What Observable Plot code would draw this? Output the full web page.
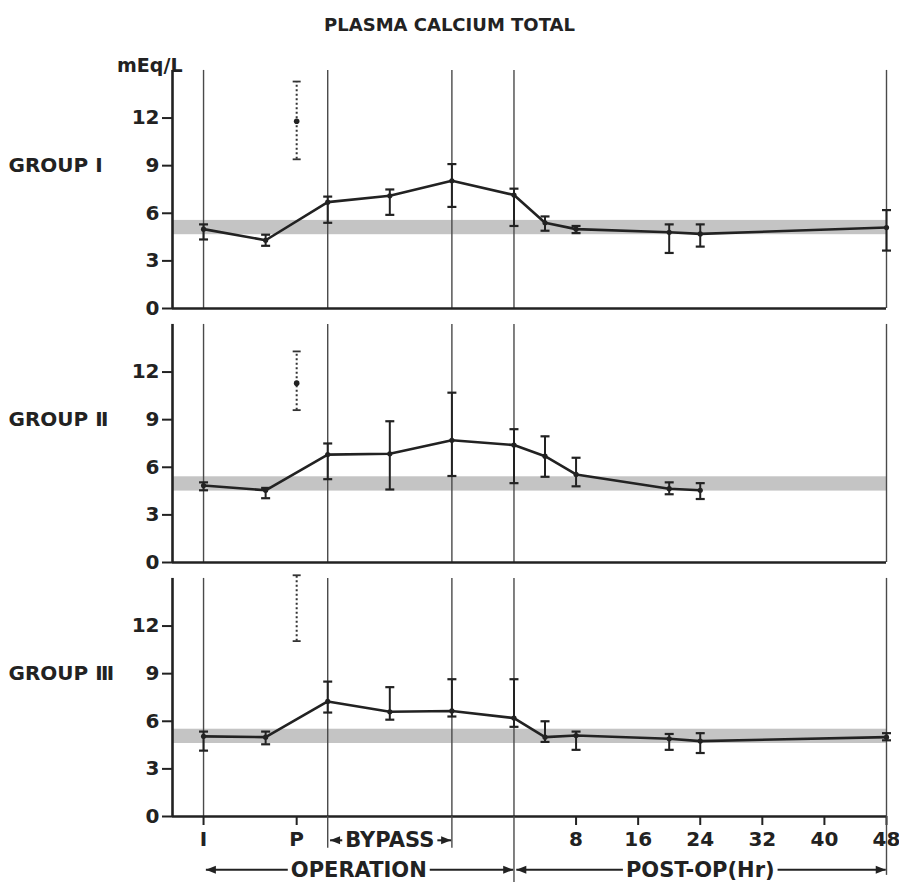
<!DOCTYPE html>
<html><head><meta charset="utf-8">
<script src="https://cdn.jsdelivr.net/npm/d3@7"></script>
<script src="https://cdn.jsdelivr.net/npm/@observablehq/plot@0.6"></script>
<style>html,body{margin:0;padding:0;background:#fff}#chart{width:899px;height:882px}</style>
</head><body><div id="chart"></div>
<script>
// ---- data ----
const groups = ["I", "II", "III"];
const groupLabels = ["GROUP Ⅰ", "GROUP Ⅱ", "GROUP Ⅲ"];
// sampling points: operation phase (I, pre-bypass, bypass start, mid, end, end of op) then post-op hours
const timepoints = [-40, -32, -24, -16, -8, 0, 4, 8, 20, 24, 48];

const meanI = [5.0, 4.3, 6.7, 7.1, 8.05, 7.15, 5.4, 5.0, 4.8, 4.7, 5.1];
const loI   = [4.35, 3.95, 5.4, 5.9, 6.4, 5.2, 4.9, 4.75, 3.5, 3.9, 3.65];
const hiI   = [5.3, 4.65, 7.05, 7.5, 9.1, 7.55, 5.8, 5.2, 5.3, 5.3, 6.2];

const meanII = [4.85, 4.55, 6.8, 6.85, 7.7, 7.4, 6.7, 5.55, 4.65, 4.55];
const loII   = [4.55, 4.05, 5.25, 4.6, 5.45, 5.0, 5.4, 4.8, 4.3, 4.0];
const hiII   = [5.05, 4.7, 7.5, 8.9, 10.7, 8.4, 7.95, 6.6, 5.05, 5.0];

const meanIII = [5.05, 5.0, 7.25, 6.6, 6.65, 6.2, 5.0, 5.1, 4.9, 4.75, 5.0];
const loIII   = [4.15, 4.55, 6.55, 6.1, 6.3, 5.65, 4.7, 4.2, 4.2, 4.0, 4.8];
const hiIII   = [5.35, 5.35, 8.5, 8.15, 8.65, 8.65, 6.0, 5.35, 5.2, 5.25, 5.25];

// dotted "P" measurement
const pPosition = -28;
const pMean = [11.8, 11.3, null];
const pLo   = [9.4, 9.6, 11.05];
const pHi   = [14.3, 13.3, 15.2];

// normal range (shaded band)
const normalLo = [4.65, 4.5, 4.6];
const normalHi = [5.55, 5.4, 5.5];

const refLines = [-40, -24, -8, 0, 48];
const yTicks = [0, 3, 6, 9, 12];
const xTicks = [-40, -28, 8, 16, 24, 32, 40, 48];
const xTickLabels = ["Ⅰ", "P", "8", "16", "24", "32", "40", "48"];
const phases = [
  {name: "BYPASS", from: -24, to: -8, row: "inner"},
  {name: "OPERATION", from: -40, to: 0, row: "outer"},
  {name: "POST-OP(Hr)", from: 0, to: 48, row: "outer"}
];
const title = "PLASMA CALCIUM TOTAL";
const unitLabel = "mEq/L";

// ---- tables ----
const series = [[meanI, loI, hiI], [meanII, loII, hiII], [meanIII, loIII, hiIII]];
const points = [];
series.forEach(([m, lo, hi], gi) => {
  m.forEach((v, i) => points.push({g: groups[gi], x: timepoints[i], mean: v, lo: lo[i], hi: hi[i]}));
});
const pData = groups.map((g, i) => ({g, x: pPosition, mean: pMean[i], lo: pLo[i], hi: pHi[i]}));
const bands = groups.map((g, i) => ({g, lo: normalLo[i], hi: normalHi[i]}));
const vlines = groups.flatMap(g => refLines.map(x => ({g, x})));

const xDomain = [-44, 48];
const yTop = 15;
const W = 899, ML = 172, MR = 13;
const pxPerUnit = (W - ML - MR) / (xDomain[1] - xDomain[0]);
const FONT = "'DejaVu Sans', 'Liberation Sans', sans-serif";
const labelSize = 21;
const innerRow = -1.5, outerRow = -3.36;

const ctx = document.createElement("canvas").getContext("2d");
ctx.font = `bold ${labelSize}px ${FONT}`;
const phaseRows = phases.map(p => {
  const mid = (p.from + p.to) / 2;
  const half = (ctx.measureText(p.name).width / 2 + 3) / pxPerUnit;
  return {...p, g: "III", mid, half, y: p.row === "inner" ? innerRow : outerRow};
});
const shafts = phaseRows.flatMap(p => [
  {g: "III", x1: p.mid - p.half, x2: p.from + 0.3, y: p.y, dir: "left"},
  {g: "III", x1: p.mid + p.half, x2: p.to - 0.1, y: p.y, dir: "right"}
]);
const extensions = [
  {g: "III", x: -24, y1: innerRow - 0.5},
  {g: "III", x: -8, y1: innerRow - 0.5},
  {g: "III", x: 0, y1: -4.2},
  {g: "III", x: 48, y1: outerRow - 0.35}
];

const capSymbol = {draw(c, size) { const w = Math.sqrt(size / Math.PI); c.moveTo(-w, 0); c.lineTo(w, 0); }};
const headRight = {draw(c, size) { c.moveTo(0, 0); c.lineTo(-10, -4); c.lineTo(-10, 4); c.closePath(); }};
const headLeft = {draw(c, size) { c.moveTo(0, 0); c.lineTo(10, -4); c.lineTo(10, 4); c.closePath(); }};

const ink = "#222";
const chart = Plot.plot({
  width: W, height: 882,
  marginLeft: ML, marginRight: MR, marginTop: 61, marginBottom: 65.5,
  style: {fontFamily: FONT, fontSize: "20px", fontWeight: "bold", color: ink, background: "#fff", overflow: "visible"},
  x: {domain: xDomain},
  y: {domain: [0, 15.5]},
  fy: {domain: groups, paddingInner: 0.032, paddingOuter: 0, axis: null, label: null},
  marks: [
    Plot.rectY(bands, {x1: xDomain[0], x2: xDomain[1], y1: "lo", y2: "hi", fy: "g", fill: "#c4c4c4"}),
    Plot.ruleX(vlines, {x: "x", y1: 0, y2: yTop, fy: "g", stroke: "#4a4a4a", strokeWidth: 1.4}),
    Plot.ruleX(groups, {x: xDomain[0], y1: 0, y2: yTop, fy: d => d, stroke: ink, strokeWidth: 2.6}),
    Plot.ruleY(groups, {y: 0, x1: xDomain[0], x2: xDomain[1], fy: d => d, stroke: ink, strokeWidth: 2.6}),
    // data
    Plot.line(points, {x: "x", y: "mean", z: "g", fy: "g", stroke: ink, strokeWidth: 2.6}),
    Plot.ruleX(points, {x: "x", y1: "lo", y2: "hi", fy: "g", stroke: ink, strokeWidth: 2}),
    Plot.dot(points, {x: "x", y: "hi", fy: "g", symbol: capSymbol, r: 4.5, stroke: ink, strokeWidth: 2.2}),
    Plot.dot(points, {x: "x", y: "lo", fy: "g", symbol: capSymbol, r: 4.5, stroke: ink, strokeWidth: 2.2}),
    Plot.dot(points, {x: "x", y: "mean", fy: "g", r: 2.6, fill: ink}),
    // dotted P measurement
    Plot.ruleX(pData, {x: "x", y1: "lo", y2: "hi", fy: "g", stroke: "#333", strokeWidth: 2, strokeDasharray: "2,2.5"}),
    Plot.dot(pData, {x: "x", y: "hi", fy: "g", symbol: capSymbol, r: 4, stroke: "#333", strokeWidth: 1.8}),
    Plot.dot(pData, {x: "x", y: "lo", fy: "g", symbol: capSymbol, r: 4, stroke: "#333", strokeWidth: 1.8}),
    Plot.dot(pData.filter(d => d.mean != null), {x: "x", y: "mean", fy: "g", r: 2.8, fill: ink}),
    // axes
    Plot.axisY({ticks: yTicks, tickSize: 10, tickPadding: 3, strokeWidth: 2, fontSize: 20, label: null}),
    Plot.axisX({ticks: xTicks, tickFormat: d => xTickLabels[xTicks.indexOf(d)], tickSize: 9, tickPadding: 6, strokeWidth: 2, fontSize: 20, label: null}),
    // labels
    Plot.text(groups, {fy: d => d, y: 9, text: (d, i) => groupLabels[i], frameAnchor: "left", textAnchor: "start", dx: -164, fontSize: 20}),
    Plot.text([title], {fy: () => "I", frameAnchor: "top", dx: -80, dy: -44, fontSize: 18}),
    Plot.text([unitLabel], {fy: () => "I", frameAnchor: "top-left", textAnchor: "end", dx: 10, dy: -4, fontSize: 19}),
    // bottom annotation (facet III)
    Plot.ruleX(extensions, {x: "x", y1: "y1", y2: 0, fy: "g", stroke: "#4a4a4a", strokeWidth: 1.4}),
    Plot.text(phaseRows, {x: "mid", y: "y", fy: "g", text: "name", fontSize: labelSize}),
    Plot.link(shafts, {x1: "x1", x2: "x2", y1: "y", y2: "y", fy: "g", stroke: ink, strokeWidth: 2}),
    Plot.dot(shafts.filter(d => d.dir === "right"), {x: "x2", y: "y", fy: "g", symbol: headRight, r: 5, fill: ink, stroke: "none"}),
    Plot.dot(shafts.filter(d => d.dir === "left"), {x: "x2", y: "y", fy: "g", symbol: headLeft, r: 5, fill: ink, stroke: "none"})
  ]
});
document.getElementById("chart").appendChild(chart);
</script>
</body></html>
